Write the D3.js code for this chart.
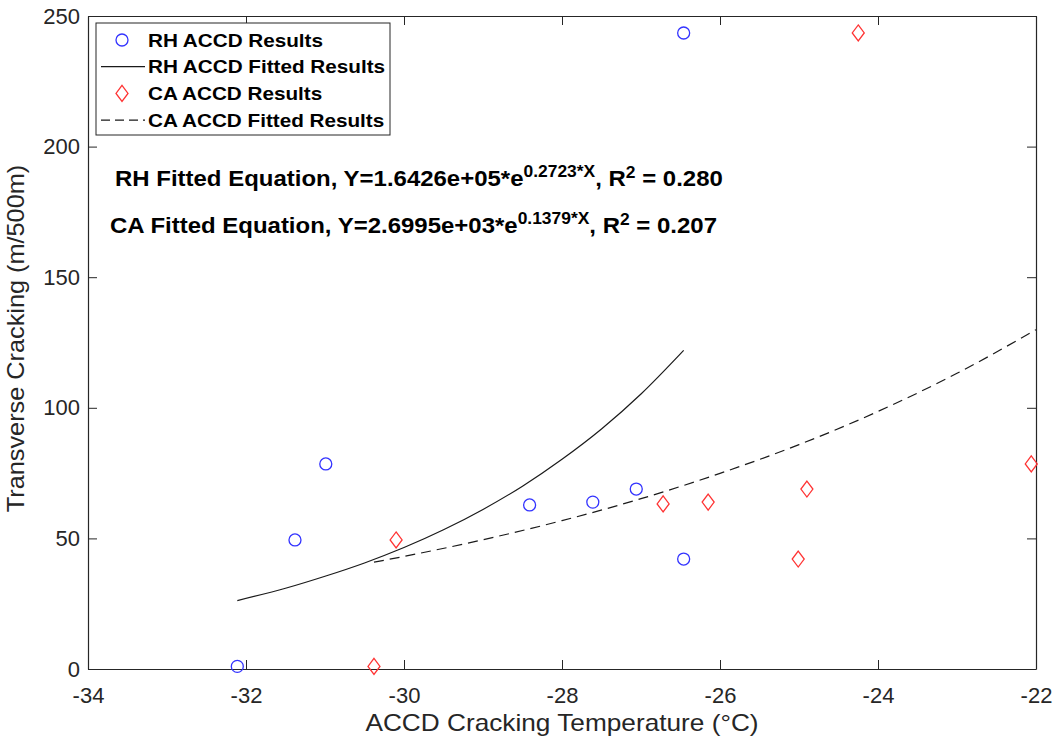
<!DOCTYPE html>
<html>
<head>
<meta charset="utf-8">
<script src="https://cdn.jsdelivr.net/npm/d3@7"></script>
<style>
  body { margin: 0; background: #fff; }
  svg { font-family: "Liberation Sans", Arial, sans-serif; }
</style>
</head>
<body>
<div id="chart"></div>
<script>
const width = 1055;
const height = 742;

// measured points (ACCD cracking temperature, transverse cracking)
const rhTemp = [-32.11, -31.38, -30.99, -28.41, -27.61, -27.06, -26.46, -26.46];
const rhCrack = [1, 49.4, 78.5, 62.8, 63.9, 68.9, 42.1, 243.5];
const caTemp = [-30.38, -30.10, -26.72, -26.15, -24.90, -25.01, -24.25, -22.06];
const caCrack = [1, 49.4, 63.2, 63.9, 68.9, 42.1, 243.5, 78.5];

// fitted curves
const rhFitX = [-32.11, -31.5, -31, -30.5, -30, -29.5, -29, -28.5, -28, -27.5, -27, -26.46];
const rhFitY = [26.2, 30.9, 35.5, 40.6, 46.5, 53.3, 61.1, 70.0, 80.3, 91.9, 105.3, 122.0];
const caFitX = [-30.38, -30, -29, -28, -27, -26, -25, -24, -23, -22];
const caFitY = [40.9, 43.1, 49.5, 56.8, 65.2, 74.9, 85.9, 98.6, 113.2, 129.9];

const xTicks = [-34, -32, -30, -28, -26, -24, -22];
const yTicks = [0, 50, 100, 150, 200, 250];

const legendLabels = ["RH ACCD Results", "RH ACCD Fitted Results", "CA ACCD Results", "CA ACCD Fitted Results"];

const margin = {top: 16, right: 19, bottom: 73, left: 88};
const axisColor = "#262626";

const svg = d3.select("#chart")
  .append("svg")
  .attr("width", width)
  .attr("height", height);

const x = d3.scaleLinear()
  .domain([-34, -22])
  .range([margin.left, width - margin.right]);

const y = d3.scaleLinear()
  .domain([0, 250])
  .range([height - margin.bottom, margin.top]);

// the reference font runs wider than Liberation Sans, so stretch text a bit
function label(parent, px, py, str, size, weight, sx, anchor, rot) {
  return parent.append("text")
    .attr("transform", `translate(${px},${py})` + (rot ? ` rotate(${rot})` : "") + ` scale(${sx},1)`)
    .attr("text-anchor", anchor)
    .style("font-size", size + "px")
    .style("font-weight", weight)
    .text(str);
}

const fmt = d => String(d); // plain hyphen minus like MATLAB

// axes (ticks inside, box on)
const xAxis = svg.append("g")
  .attr("transform", `translate(0,${y(0)})`)
  .call(d3.axisBottom(x).tickValues(xTicks).tickFormat(fmt).tickSizeInner(-9).tickSizeOuter(0).tickPadding(18));
const yAxis = svg.append("g")
  .attr("transform", `translate(${x(-34)},0)`)
  .call(d3.axisLeft(y).tickValues(yTicks).tickFormat(fmt).tickSizeInner(-9).tickSizeOuter(0).tickPadding(8));
const xTop = svg.append("g")
  .attr("transform", `translate(0,${y(250)})`)
  .call(d3.axisTop(x).tickValues(xTicks).tickSizeInner(-9).tickSizeOuter(0).tickFormat(""));
const yRight = svg.append("g")
  .attr("transform", `translate(${x(-22)},0)`)
  .call(d3.axisRight(y).tickValues(yTicks).tickSizeInner(-9).tickSizeOuter(0).tickFormat(""));

[xAxis, yAxis, xTop, yRight].forEach(g => {
  g.select(".domain").attr("stroke", axisColor).attr("stroke-width", 1.2);
  g.selectAll(".tick line").attr("stroke", axisColor);
  g.selectAll(".tick text")
    .attr("fill", axisColor)
    .style("font-size", "22px")
    .style("font-family", "Liberation Sans, Arial, sans-serif");
});

label(svg, (x(-34) + x(-22)) / 2, 731, "ACCD Cracking Temperature (°C)", 23, "normal", 1.14, "middle")
  .attr("fill", axisColor);

label(svg, 24, (y(0) + y(250)) / 2 - 4, "Transverse Cracking (m/500m)", 23, "normal", 1.1, "middle", -90)
  .attr("fill", axisColor);

// fitted lines
const line = d3.line()
  .x(d => x(d[0]))
  .y(d => y(d[1]))
  .curve(d3.curveMonotoneX);

svg.append("path")
  .datum(d3.zip(rhFitX, rhFitY))
  .attr("d", line)
  .attr("fill", "none")
  .attr("stroke", "#1a1a1a")
  .attr("stroke-width", 1.2);

svg.append("path")
  .datum(d3.zip(caFitX, caFitY))
  .attr("d", line)
  .attr("fill", "none")
  .attr("stroke", "#1a1a1a")
  .attr("stroke-width", 1.2)
  .attr("stroke-dasharray", "10,6");

// markers
const diamond = "M0,-8L6,0L0,8L-6,0Z";

svg.append("g")
  .selectAll("circle")
  .data(d3.zip(rhTemp, rhCrack))
  .join("circle")
  .attr("cx", d => x(d[0]))
  .attr("cy", d => y(d[1]))
  .attr("r", 6)
  .attr("fill", "none")
  .attr("stroke", "#3333ff")
  .attr("stroke-width", 1.3);

svg.append("g")
  .selectAll("path")
  .data(d3.zip(caTemp, caCrack))
  .join("path")
  .attr("transform", d => `translate(${x(d[0])},${y(d[1])})`)
  .attr("d", diamond)
  .attr("fill", "none")
  .attr("stroke", "#ff3333")
  .attr("stroke-width", 1.3);

// equations
const eqs = [
  {pre: "RH Fitted Equation, Y=1.6426e+05*e", exp: "0.2723*X", post: ", R", r: "2", end: " = 0.280", x0: 115, y: 186},
  {pre: "CA Fitted Equation, Y=2.6995e+03*e", exp: "0.1379*X", post: ", R", r: "2", end: " = 0.207", x0: 110, y: 233}
];
eqs.forEach(e => {
  const t = label(svg, e.x0, e.y, "", 22, "bold", 1.09, "start").attr("fill", "#000");
  t.append("tspan").text(e.pre);
  t.append("tspan").attr("dy", -9).style("font-size", "16px").text(e.exp);
  t.append("tspan").attr("dy", 9).text(e.post);
  t.append("tspan").attr("dy", -8).style("font-size", "16px").text(e.r);
  t.append("tspan").attr("dy", 8).text(e.end);
});

// legend
const lg = svg.append("g");
lg.append("rect")
  .attr("x", 96).attr("y", 23)
  .attr("width", 294).attr("height", 112)
  .attr("fill", "#fff")
  .attr("stroke", axisColor)
  .attr("stroke-width", 1);

legendLabels.forEach((lab, i) => {
  const ly = 40 + i * 26.7;
  if (i === 0) {
    lg.append("circle").attr("cx", 122).attr("cy", ly).attr("r", 6)
      .attr("fill", "none").attr("stroke", "#3333ff").attr("stroke-width", 1.3);
  } else if (i === 2) {
    lg.append("path").attr("transform", `translate(122,${ly})`).attr("d", diamond)
      .attr("fill", "none").attr("stroke", "#ff3333").attr("stroke-width", 1.3);
  } else {
    lg.append("line").attr("x1", 101).attr("x2", 145).attr("y1", ly).attr("y2", ly)
      .attr("stroke", "#1a1a1a").attr("stroke-width", 1.2)
      .attr("stroke-dasharray", i === 3 ? "9,5" : null);
  }
  label(lg, 148, ly + 6.5, lab, 18, "bold", 1.15, "start").attr("fill", "#000");
});
</script>
</body>
</html>
